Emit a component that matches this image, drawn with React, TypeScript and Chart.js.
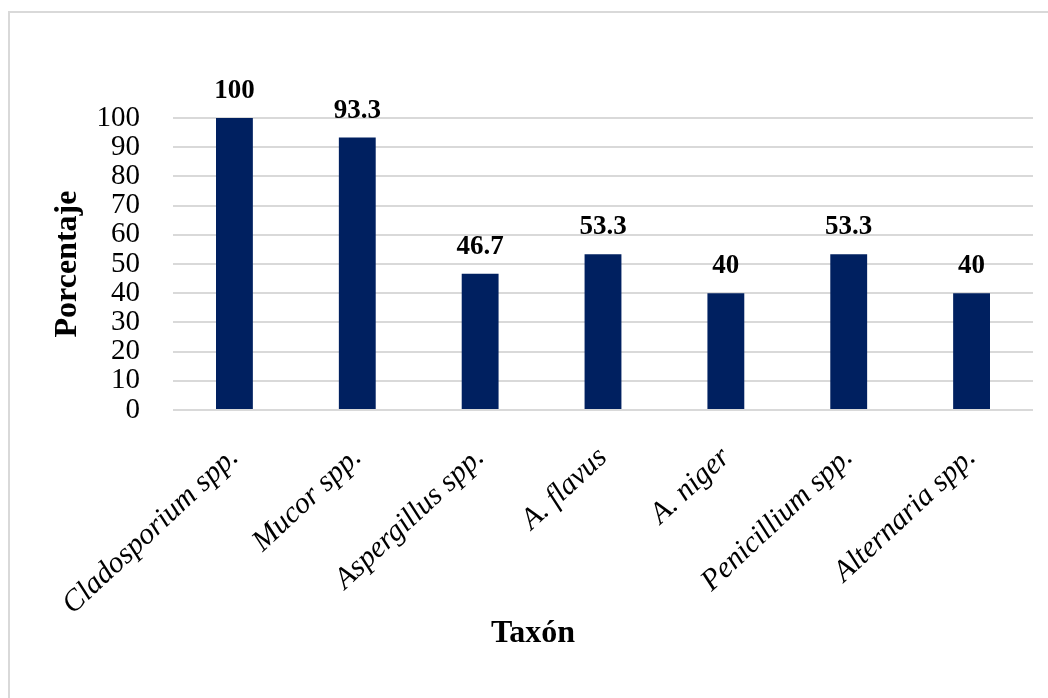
import React, { useEffect, useRef } from "react";
import { Chart, registerables } from "chart.js";

Chart.register(...registerables);

const taxa = [
  "Cladosporium spp.",
  "Mucor spp.",
  "Aspergillus spp.",
  "A. flavus",
  "A. niger",
  "Penicillium spp.",
  "Alternaria spp.",
];
const percentages = [100, 93.3, 46.7, 53.3, 40, 53.3, 40];
const yAxisTitle = "Porcentaje";
const xAxisTitle = "Taxón";

const SERIF = "'Liberation Serif', 'Times New Roman', serif";
const BAR_COLOR = "#002060";
const GRID_COLOR = "#d9d9d9";

// Bold value printed above each bar
const valueLabels = {
  id: "valueLabels",
  afterDatasetsDraw(chart: any) {
    const { ctx } = chart;
    const meta = chart.getDatasetMeta(0);
    ctx.save();
    ctx.font = `bold 27px ${SERIF}`;
    ctx.fillStyle = "#000";
    ctx.textAlign = "center";
    ctx.textBaseline = "alphabetic";
    meta.data.forEach((bar: any, i: number) => {
      const v = chart.data.datasets[0].data[i];
      ctx.fillText(String(v), bar.x, bar.y - 20);
    });
    ctx.restore();
  },
};

// Category axis title, centred on the chart frame
const xTitle = {
  id: "xTitle",
  afterDraw(chart: any) {
    const { ctx } = chart;
    ctx.save();
    ctx.font = `bold 32px ${SERIF}`;
    ctx.fillStyle = "#000";
    ctx.textAlign = "center";
    ctx.textBaseline = "middle";
    ctx.fillText(xAxisTitle, 533, 634);
    ctx.restore();
  },
};

export default function App() {
  const canvasRef = useRef<HTMLCanvasElement | null>(null);

  useEffect(() => {
    if (!canvasRef.current) return;
    const chart = new Chart(canvasRef.current, {
      type: "bar",
      data: {
        labels: taxa,
        datasets: [
          {
            data: percentages,
            backgroundColor: BAR_COLOR,
            borderWidth: 0,
            categoryPercentage: 1,
            barPercentage: 0.3,
          },
        ],
      },
      options: {
        responsive: false,
        animation: false,
        layout: { padding: { top: 118, right: 15, bottom: 0, left: 0 } },
        plugins: {
          legend: { display: false },
          tooltip: { enabled: false },
        },
        scales: {
          x: {
            grid: { display: false },
            border: { display: false },
            ticks: {
              color: "#000",
              font: { family: SERIF, size: 30, style: "italic" },
              minRotation: 43,
              maxRotation: 43,
              padding: 22,
              autoSkip: false,
            },
            afterFit(scale: any) {
              scale.height = 288;
            },
          },
          y: {
            min: 0,
            max: 100,
            grid: { color: GRID_COLOR, lineWidth: 2, drawTicks: false },
            border: { display: false },
            ticks: {
              stepSize: 10,
              autoSkip: false,
              color: "#000",
              font: { family: SERIF, size: 29 },
              padding: 33,
            },
            title: {
              display: true,
              text: yAxisTitle,
              color: "#000",
              font: { family: SERIF, size: 32, weight: "bold" },
              padding: { top: 49, bottom: 0 },
            },
            afterFit(scale: any) {
              scale.width = 173;
            },
          },
        },
      },
      plugins: [valueLabels, xTitle],
    });
    return () => chart.destroy();
  }, []);

  return (
    <div
      style={{
        position: "fixed",
        left: 0,
        top: 0,
        width: 1048,
        height: 698,
        overflow: "hidden",
        background: "#fff",
      }}
    >
      <div
        style={{
          position: "absolute",
          left: 8,
          top: 11,
          width: 1200,
          height: 900,
          border: `2px solid ${GRID_COLOR}`,
        }}
      />
      <canvas
        ref={canvasRef}
        width={1048}
        height={698}
        style={{ position: "absolute", left: 0, top: 0 }}
      />
    </div>
  );
}
